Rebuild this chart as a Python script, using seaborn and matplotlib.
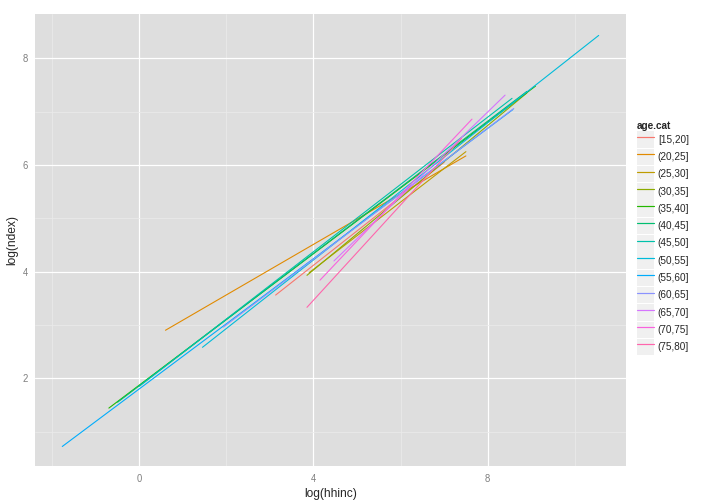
import pandas as pd
import matplotlib.pyplot as plt
import seaborn as sns
from matplotlib.patches import Patch
from matplotlib.lines import Line2D
from matplotlib.legend_handler import HandlerTuple

# fitted lines per age group: start/end of log(hhinc) and log(ndex)
age_cats = ['[15,20]', '(20,25]', '(25,30]', '(30,35]', '(35,40]', '(40,45]', '(45,50]',
            '(50,55]', '(55,60]', '(60,65]', '(65,70]', '(70,75]', '(75,80]']
x_start = [3.13, 0.60, 3.90, 3.85, -0.70, -0.50, 0.00, 1.45, -1.77, 1.93, 4.47, 4.15, 3.85]
x_end = [7.00, 7.50, 7.50, 8.90, 9.10, 8.90, 8.56, 10.55, 8.58, 8.60, 8.40, 7.64, 7.40]
y_start = [3.56, 2.90, 3.98, 3.93, 1.44, 1.55, 1.85, 2.58, 0.72, 2.96, 4.20, 3.84, 3.33]
y_end = [6.05, 6.17, 6.25, 7.35, 7.48, 7.38, 7.25, 8.43, 7.04, 7.06, 7.31, 6.86, 6.50]

palette = ['#F8766D', '#E18A00', '#BE9C00', '#8CAB00', '#24B700', '#00BE70', '#00C1AB',
           '#00BBDA', '#00ACFC', '#8B93FF', '#D575FE', '#F962DD', '#FF65AC']

rows = []
for i, cat in enumerate(age_cats):
    rows.append({'age.cat': cat, 'x': x_start[i], 'y': y_start[i]})
    rows.append({'age.cat': cat, 'x': x_end[i], 'y': y_end[i]})
df = pd.DataFrame(rows)

sns.set_style('white')
plt.rcParams['font.family'] = ['Liberation Sans', 'DejaVu Sans']

fig = plt.figure(figsize=(10, 7), dpi=72)
ax = fig.add_axes([0.049, 0.075, 0.82, 0.897])
ax.set_facecolor('#DEDEDE')

sns.lineplot(data=df, x='x', y='y', hue='age.cat', hue_order=age_cats, palette=palette,
             estimator=None, sort=False, linewidth=1.1, legend=False, ax=ax)

ax.set_xlim(-2.39, 11.17)
ax.set_ylim(0.35, 8.83)
ax.set_xticks([0, 4, 8])
ax.set_yticks([2, 4, 6, 8])
ax.set_xticks([-2, 2, 6, 10], minor=True)
ax.set_yticks([1, 3, 5, 7], minor=True)
ax.grid(True, which='major', color='white', linewidth=1.2)
ax.grid(True, which='minor', color='#EBEBEB', linewidth=0.7)
ax.set_axisbelow(True)
for s in ax.spines.values():
    s.set_visible(False)
ax.tick_params(axis='both', which='major', length=4, color='#7F7F7F', labelcolor='#7F7F7F',
               labelsize=9.5, width=0.8)
ax.tick_params(axis='both', which='minor', length=0)
ax.set_xlabel('log(hhinc)', fontsize=12)
ax.set_ylabel('log(ndex)', fontsize=12)

handles = [(Patch(facecolor='#F0F0F0', edgecolor='none'), Line2D([], [], color=c, linewidth=1.2))
           for c in palette]
leg = ax.legend(handles, age_cats, title='age.cat', loc='center left',
                bbox_to_anchor=(1.012, 0.505), frameon=False, fontsize=10,
                handlelength=1.7, handleheight=2.16, labelspacing=0.08, handletextpad=0.4,
                borderaxespad=0, handler_map={tuple: HandlerTuple(ndivide=1, pad=0)})
leg.get_title().set_fontweight('bold')
leg.get_title().set_fontsize(10)
leg._legend_box.align = 'left'

plt.savefig('out.png', dpi=72)
